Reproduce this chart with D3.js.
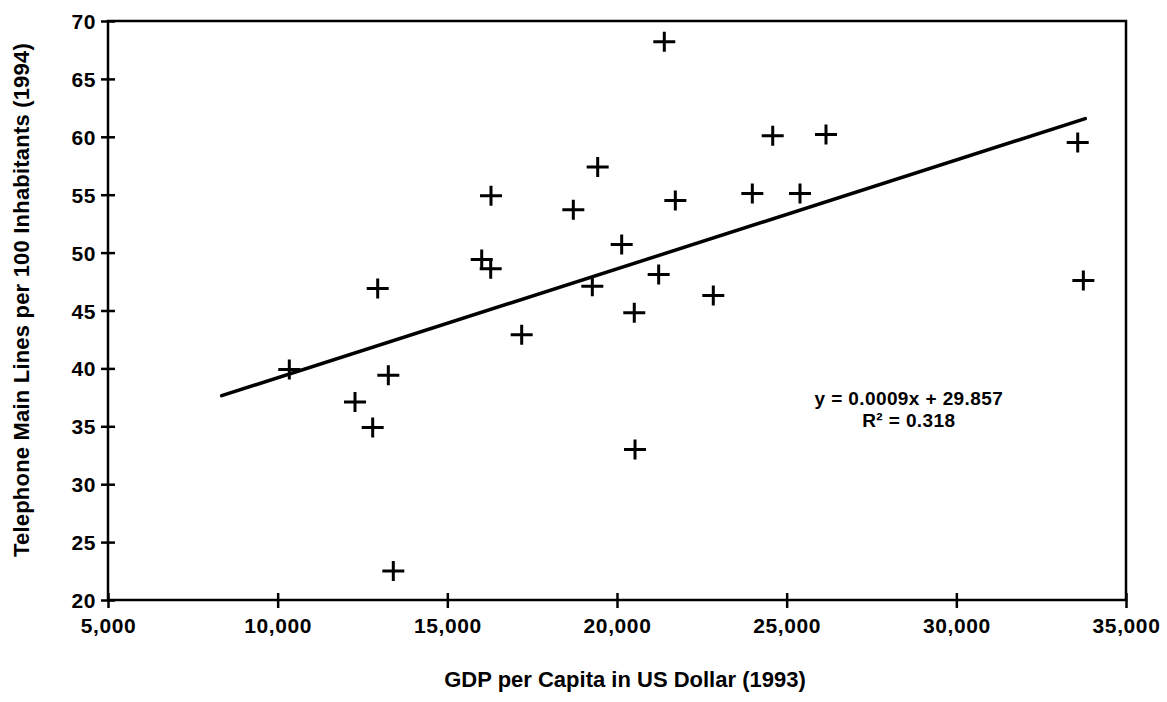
<!DOCTYPE html>
<html>
<head>
<meta charset="utf-8">
<script src="https://cdn.jsdelivr.net/npm/d3@7"></script>
<style>
  body { margin: 0; background: #fff; }
  text { font-family: "Liberation Sans", Arial, Helvetica, sans-serif; fill: #000; }
  .tick text { font-size: 21px; font-weight: bold; letter-spacing: 0.6px; }
  .tick line { stroke: #000; stroke-width: 2.5; }
</style>
</head>
<body>
<div id="chart"></div>
<script>
// GDP per capita (1993) vs telephone main lines per 100 inhabitants (1994)
var gdp = [10343, 12279, 12800, 12948, 13261, 13408, 16013, 16278, 16287, 17191,
  18713, 19273, 19431, 20138, 20509, 20531, 21228, 21394, 21719, 22838,
  23988, 24589, 25393, 26159, 33577, 33743];
var lines = [39.9, 37.1, 34.9, 46.9, 39.4, 22.5, 49.4, 48.6, 54.9, 42.9,
  53.7, 47.1, 57.4, 50.7, 44.8, 33.0, 48.1, 68.2, 54.5, 46.3,
  55.1, 60.1, 55.1, 60.2, 59.5, 47.6];

var xTicks = [5000, 10000, 15000, 20000, 25000, 30000, 35000];
var yTicks = [20, 25, 30, 35, 40, 45, 50, 55, 60, 65, 70];
var trendRange = [8350, 33800];
var equationLabel = ["y = 0.0009x + 29.857", "R\u00b2 = 0.318"];

var width = 1167, height = 702;
var margin = {top: 21, right: 41, bottom: 102, left: 108};
var plotWidth = width - margin.left - margin.right;
var plotHeight = height - margin.top - margin.bottom;

var svg = d3.select("#chart")
  .append("svg")
  .attr("width", width)
  .attr("height", height);
var plot = svg.append("g")
  .attr("transform", "translate(" + margin.left + "," + margin.top + ")");

var x = d3.scaleLinear().domain([5000, 35000]).range([0, plotWidth]);
var y = d3.scaleLinear().domain([20, 70]).range([plotHeight, 0]);

// frame
plot.append("rect")
  .attr("width", plotWidth)
  .attr("height", plotHeight)
  .attr("fill", "none")
  .attr("stroke", "#000")
  .attr("stroke-width", 2.5);

// axes, ticks cross the frame
var xAxis = plot.append("g")
  .attr("transform", "translate(0," + plotHeight + ")")
  .call(d3.axisBottom(x).tickValues(xTicks).tickFormat(d3.format(",")).tickSize(8).tickPadding(10));
xAxis.select(".domain").remove();
xAxis.selectAll(".tick line").attr("y1", -7).attr("y2", 8);

var yAxis = plot.append("g")
  .call(d3.axisLeft(y).tickValues(yTicks).tickSize(7).tickPadding(5));
yAxis.select(".domain").remove();
yAxis.selectAll(".tick line").attr("x1", 7).attr("x2", -7);
yAxis.selectAll(".tick text").attr("dy", "0.36em");

// least squares trend line
var mx = d3.mean(gdp), my = d3.mean(lines);
var sxy = d3.sum(gdp, function(d, i) { return (d - mx) * (lines[i] - my); });
var sxx = d3.sum(gdp, function(d) { return (d - mx) * (d - mx); });
var slope = sxy / sxx;
var intercept = my - slope * mx;

plot.append("line")
  .attr("x1", x(trendRange[0]))
  .attr("y1", y(intercept + slope * trendRange[0]))
  .attr("x2", x(trendRange[1]))
  .attr("y2", y(intercept + slope * trendRange[1]))
  .attr("stroke", "#000")
  .attr("stroke-width", 3.5)
  .attr("stroke-linecap", "round");

// plus markers
plot.append("g")
  .selectAll("path")
  .data(gdp)
  .enter()
  .append("path")
  .attr("transform", function(d, i) { return "translate(" + x(d) + "," + y(lines[i]) + ")"; })
  .attr("d", "M-11,0H11M0,-10V10")
  .attr("stroke", "#000")
  .attr("stroke-width", 3)
  .attr("fill", "none");

// equation
plot.append("g")
  .selectAll("text")
  .data(equationLabel)
  .enter()
  .append("text")
  .attr("x", x(28600))
  .attr("y", function(d, i) { return y(36.85) + i * 22; })
  .attr("text-anchor", "middle")
  .attr("font-size", "19px")
  .attr("font-weight", "bold")
  .attr("letter-spacing", "0.4px")
  .text(function(d) { return d; });

// axis titles
svg.append("text")
  .attr("x", margin.left + plotWidth / 2 + 8)
  .attr("y", 687)
  .attr("text-anchor", "middle")
  .attr("font-size", "22px")
  .attr("font-weight", "bold")
  .text("GDP per Capita in US Dollar (1993)");

svg.append("text")
  .attr("transform", "translate(29," + 300 + ") rotate(-90)")
  .attr("text-anchor", "middle")
  .attr("font-size", "22px")
  .attr("font-weight", "bold")
  .attr("letter-spacing", "0.2px")
  .text("Telephone Main Lines per 100 Inhabitants (1994)");
</script>
</body>
</html>
